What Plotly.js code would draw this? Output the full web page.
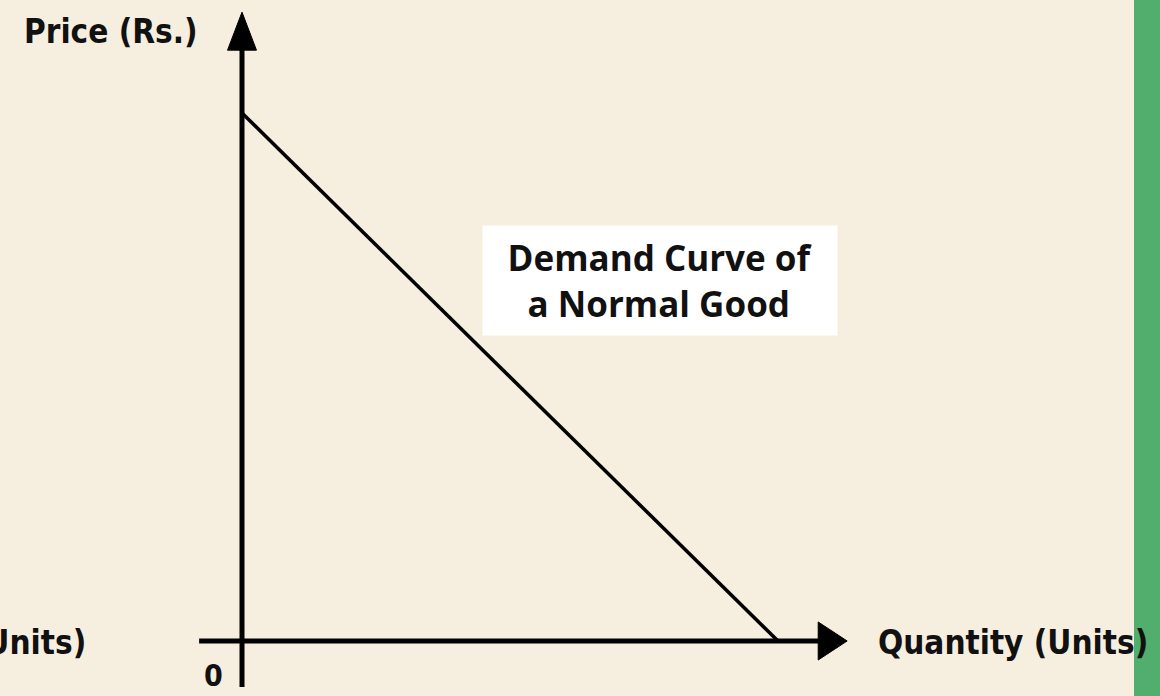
<!DOCTYPE html>
<html><head><meta charset="utf-8">
<script src="https://cdn.plot.ly/plotly-3.0.1.min.js"></script>
<style>html,body{margin:0;padding:0;background:#F6EEDE;}#c{width:1160px;height:696px;}</style>
</head><body><div id="c"></div>
<script>
// Data: straight-line demand curve (quantity vs price)
const quantity = [0, 10];
const price = [10, 0];
const xTitle = "Quantity (Units)";
const yTitle = "Price (Rs.)";
const originLabel = "0";
const boxText = "Demand Curve of<br>a Normal Good";

const W = 1160, H = 696;
const xRange = [-4.515, 17.127];
const yRange = [-1.042, 12.14];

const axisFont = {family: "DejaVu Sans Condensed, Liberation Sans Narrow, sans-serif", size: 33, color: "#111"};

const shapes = [
  {type: "rect", xref: "paper", yref: "paper", x0: 1134/W, x1: 1, y0: 0, y1: 1, fillcolor: "#52AE6C", line: {width: 0}, layer: "below"},
  // vertical axis
  {type: "line", xref: "x", yref: "y", x0: 0, x1: 0, y0: -0.87, y1: 11.3, line: {color: "#000", width: 5}},
  {type: "path", xref: "x", yref: "y", path: "M -0.27 11.19 L 0.27 11.19 L 0 11.91 Z", fillcolor: "#000", line: {color: "#000", width: 1}},
  // horizontal axis
  {type: "line", xref: "x", yref: "y", x0: -0.8, x1: 10.85, y0: 0, y1: 0, line: {color: "#000", width: 5}},
  {type: "path", xref: "x", yref: "y", path: "M 10.75 0.36 L 10.75 -0.36 L 11.29 0 Z", fillcolor: "#000", line: {color: "#000", width: 1}}
];

const annotations = [
  {xref: "paper", yref: "paper", x: 22/W, y: 1 - 32/H, xanchor: "left", yanchor: "middle", text: "<b>" + yTitle + "</b>", showarrow: false, font: axisFont},
  {xref: "paper", yref: "paper", x: 876/W, y: 1 - 642/H, xanchor: "left", yanchor: "middle", text: "<b>" + xTitle + "</b>", showarrow: false, font: axisFont},
  {xref: "paper", yref: "paper", x: 88/W, y: 1 - 642/H, xanchor: "right", yanchor: "middle", text: "<b>" + xTitle + "</b>", showarrow: false, font: axisFont},
  {xref: "paper", yref: "paper", x: 213/W, y: 1 - 675/H, xanchor: "center", yanchor: "middle", text: "<b>" + originLabel + "</b>", showarrow: false, borderpad: 0, font: {family: axisFont.family, size: 30, color: "#111"}},
  {xref: "paper", yref: "paper", x: 660/W, y: 1 - 280.5/H, xanchor: "center", yanchor: "middle", text: "<b>" + boxText + "</b>", showarrow: false,
   width: 354, height: 109, bgcolor: "#FFFFFF", borderpad: 0, align: "center",
   font: {family: "Open Sans, Lato, sans-serif", size: 35, color: "#111"}}
];

Plotly.newPlot("c", [{
  x: quantity, y: price, type: "scatter", mode: "lines",
  line: {color: "#000", width: 3.5}, hoverinfo: "skip", showlegend: false, cliponaxis: false
}], {
  width: W, height: H,
  margin: {l: 0, r: 0, t: 0, b: 0, pad: 0},
  paper_bgcolor: "#F6EEDE", plot_bgcolor: "rgba(0,0,0,0)",
  xaxis: {range: xRange, visible: false, fixedrange: true},
  yaxis: {range: yRange, visible: false, fixedrange: true},
  shapes: shapes, annotations: annotations, showlegend: false
}, {displayModeBar: false, staticPlot: true});
</script></body></html>
